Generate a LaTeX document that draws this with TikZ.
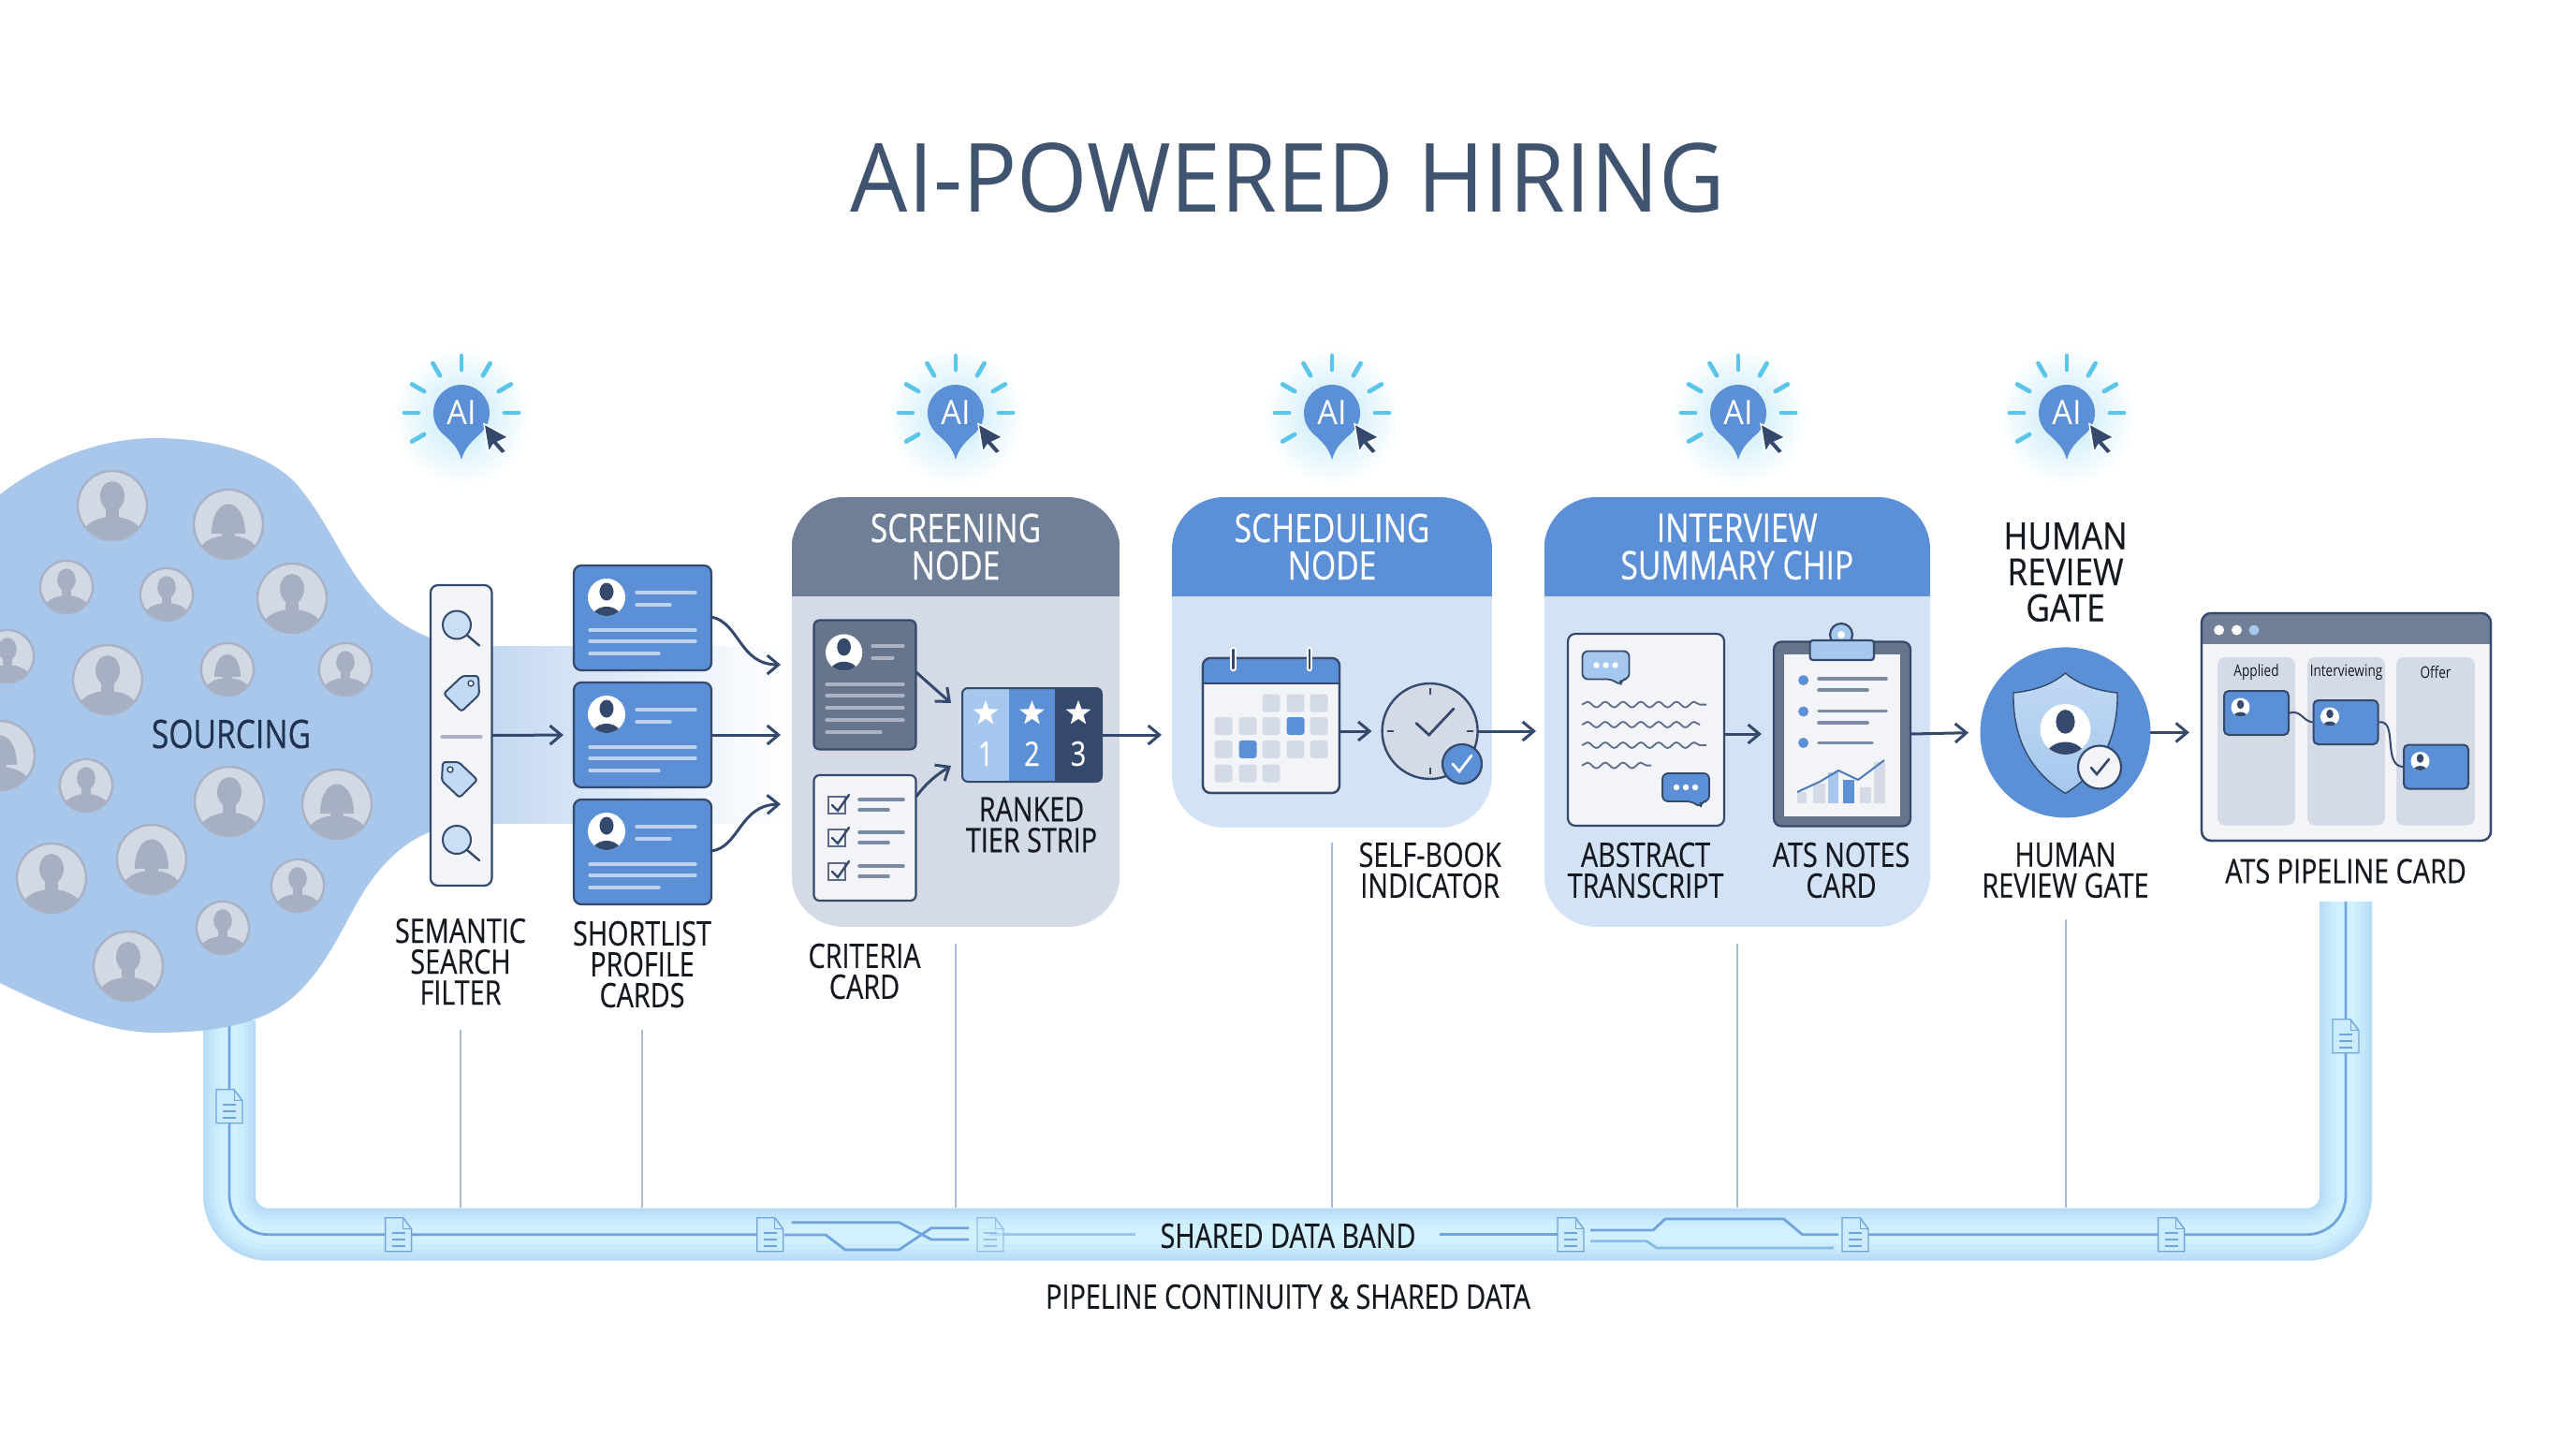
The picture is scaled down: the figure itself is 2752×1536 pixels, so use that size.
\documentclass[tikz,border=0pt]{standalone}
\usepackage{fontspec}
\usetikzlibrary{arrows.meta,shapes.geometric,decorations.pathmorphing}
\newfontfamily\lblfont[FakeStretch=0.8,FakeBold=0.4]{Open Sans}
\newfontfamily\gatefont[FakeStretch=0.88,FakeBold=0.4]{Open Sans}
\newfontfamily\minifont[FakeStretch=0.8]{Open Sans}
\newfontfamily\ttlfont[FakeStretch=0.95]{Open Sans}
\definecolor{navy}{HTML}{34496B}
\definecolor{ink}{HTML}{14181F}
\definecolor{deepnavy}{HTML}{1F3350}
\definecolor{titleblue}{HTML}{40536F}
\definecolor{midblue}{HTML}{5B8FD6}
\definecolor{lightblue}{HTML}{A6C8EE}
\definecolor{slate}{HTML}{6F7F98}
\definecolor{panelgray}{HTML}{D5DBE6}
\definecolor{panelblue}{HTML}{D3E2F5}
\definecolor{paper}{HTML}{F2F4F8}
\definecolor{rayblue}{HTML}{5CC5EA}
\definecolor{blobblue}{HTML}{A9C6EB}
\definecolor{crowdbg}{HTML}{D3D9E4}
\definecolor{crowdrim}{HTML}{A8B2C4}
\definecolor{crowdfg}{HTML}{A7AFC2}
\definecolor{barpale}{HTML}{AAB4C6}
\definecolor{bardark}{HTML}{7B8AA3}
\definecolor{dropline}{HTML}{AABCD4}
\definecolor{dataline}{HTML}{6FA5DC}
\definecolor{bandA}{HTML}{B5DBF6}
\definecolor{bandB}{HTML}{BCE0F8}
\definecolor{bandC}{HTML}{C4E6FA}
\definecolor{bandD}{HTML}{CBECFC}
\definecolor{bandE}{HTML}{D2F1FE}
\tikzset{
flow/.style={draw=navy,line width=1.5pt,line cap=round,-{Straight Barb[length=6pt,width=10pt]}},
drop/.style={draw=dropline,line width=1pt},
pxbox/.style 2 args={rectangle,inner sep=0pt,minimum width=#1*0.5pt,minimum height=#2*0.5pt},
lbl/.style={font=\lblfont\fontsize{18}{16.5}\selectfont,align=center,text=ink,inner sep=0pt},
heading/.style={font=\lblfont\fontsize{21}{20}\selectfont,align=center,text=white,inner sep=0pt},
pale/.style={draw=barpale,line width=1.6pt,line cap=round},
dark/.style={draw=bardark,line width=1.8pt,line cap=round},
dline/.style={draw=dataline,line width=1.4pt},
pics/face/.style 2 args={code={
\fill[#1] (0,0) circle[radius=20];
\begin{scope}
\clip (0,0) circle[radius=20];
\fill[#2] (0,-6) ellipse[x radius=7.5,y radius=9.5];
\fill[#2] (0,23) ellipse[x radius=16,y radius=13];
\end{scope}
}},
pics/crowdman/.style={code={
\fill[crowdbg] (0,0) circle[radius=37];
\begin{scope}
\clip (0,0) circle[radius=37];
\fill[crowdfg] (0,-10) ellipse[x radius=13,y radius=16];
\fill[crowdfg] (-7,0) rectangle (7,14);
\fill[crowdfg] (0,30) ellipse[x radius=31,y radius=18];
\end{scope}
\draw[crowdrim,line width=1.2pt] (0,0) circle[radius=37];
}},
pics/crowdwoman/.style={code={
\fill[crowdbg] (0,0) circle[radius=37];
\begin{scope}
\clip (0,0) circle[radius=37];
\fill[crowdfg] (-18,10) .. controls (-18,-32) and (18,-32) .. (18,10) -- cycle;
\fill[crowdfg] (-7,0) rectangle (7,14);
\fill[crowdfg] (0,30) ellipse[x radius=31,y radius=18];
\end{scope}
\draw[crowdrim,line width=1.2pt] (0,0) circle[radius=37];
}},
pics/aimark/.style={code={
\shade[inner color=rayblue!38,outer color=white] (0,4) circle[radius=74];
\foreach \a in {0,-30,-60,-90,-120,-150,180,150}
\draw[rayblue,line width=2.4pt,line cap=round] (\a:46) -- (\a:61);
\fill[midblue] (0,0) circle[radius=30];
\fill[midblue] (-22,20) .. controls (-10,32) and (-4,36) .. (0,50) .. controls (4,36) and (10,32) .. (22,20) -- cycle;
\node (txt) [font=\ttlfont\fontsize{18}{18}\selectfont,text=white] at (0,0) {AI};
\fill[navy,draw=white,line width=.7pt] (24,11.7) -- (50,26) -- (39,31) -- (48,41) -- (43,44) -- (34,34) -- (29,42) -- cycle;
}},
pics/docicon/.style={code={
\draw[dataline,fill=bandD,line width=.7pt] (-14,-18) -- (5,-18) -- (14,-6) -- (14,18) -- (-14,18) -- cycle;
\draw[dataline,line width=.5pt] (5,-18) -- (5,-6) -- (14,-6);
\foreach \y in {-2,5,12}
\draw[dataline,line width=.8pt] (-7,\y) -- (7,\y);
}},
pics/lens/.style={code={
\draw[navy,fill=lightblue!60,line width=1pt] (0,0) circle[radius=15];
\draw[navy,line width=1.2pt,line cap=round] (11,11) -- (24,22);
}},
pics/tagicon/.style={code={
\draw[navy,fill=lightblue!70,line width=1pt,rounded corners=1.5pt] (-18,1) -- (2,-18) -- (19,-18) -- (20,2) -- (1,20) -- cycle;
\draw[navy,fill=white,line width=.7pt] (11,-10) circle[radius=3];
}},
pics/bubble/.style={code={
\draw[navy,fill=#1,line width=.9pt,rounded corners=3pt] (-25,-15) -- (25,-15) -- (25,15) -- (16,15) -- (16,22) -- (7,15) -- (-25,15) -- cycle;
\foreach \x in {-10,0,10}
\fill[white] (\x,0) circle[radius=3.2];
}}
}
\begin{document}
\begin{tikzpicture}[x=0.5pt,y=-0.5pt]
\useasboundingbox (0,0) rectangle (2752,1536);
\fill[white] (0,0) rectangle (2752,1536);
\node (title) [font=\ttlfont\fontsize{51}{51}\selectfont,text=titleblue,inner sep=0pt] at (1376,190) {AI-POWERED HIRING};
% data band
\coordinate (bandL) at (245,1090);
\coordinate (bandM) at (1376,1318.7);
\coordinate (bandR) at (2506,963);
\foreach \w/\cc in {28/bandA,25/bandB,21/bandC,16/bandD,10/bandE}
\draw[line width=\w pt,draw=\cc,rounded corners=21pt] (bandL) |- (bandM) -| (bandR);
\foreach \nm/\x/\y in {docA/245/1181.7,docB/425.6/1318.7,docC/822.7/1318.7,docD/1058/1318.7,docE/1678/1318.7,docF/1982/1318.7,docG/2319.6/1318.7,docH/2506/1106.7}
\coordinate (\nm) at (\x,\y);
\draw[dline,rounded corners=21pt] (bandL) |- (docC);
\draw[dline,rounded corners=21pt] (docF) -| (bandR);
\draw[dline] (845.6,1305.7) -- (960.4,1305.7) -- (995,1324) -- (1035,1324);
\draw[dline] (838,1319) -- (882,1319) -- (903,1335) -- (960.4,1335) -- (995,1311.7) -- (1035,1311.7);
\draw[dline,opacity=.55] (docD) -- (1213,1318.7);
\draw[dline] (1538,1318.7) -- (docE);
\draw[dline] (1699,1314) -- (1766,1314) -- (1779,1302) -- (1905.6,1302) -- (1925.5,1318.7) -- (1964,1318.7);
\draw[dline,opacity=.7] (1699,1325.7) -- (1759,1325.7) -- (1770,1333) -- (1959,1333);
\foreach \nm in {docA,docB,docC,docE,docF,docG,docH}
\pic at (\nm) {docicon};
\pic[opacity=.6] at (docD) {docicon};
\node (bandtxt) [lbl] at (1376,1320) {SHARED DATA BAND};
\node (bandcap) [lbl] at (1376,1385) {PIPELINE CONTINUITY \& SHARED DATA};
% drop lines
\foreach \nm/\x/\y in {dropA/492/1100,dropB/686/1100,dropC/1020.5/1008,dropD/1423/900,dropE/1856/1008,dropF/2206.5/982} {
\coordinate (\nm t) at (\x,\y);
\coordinate (\nm b) at (\x,1290);
\draw[drop] (\nm t) -- (\nm b);
}
% sourcing
\fill[blobblue] (-20,545) .. controls (40,490) and (110,468) .. (165,468) .. controls (230,468) and (285,485) .. (315,515) .. controls (350,555) and (365,600) .. (395,635) .. controls (415,660) and (440,675) .. (470,685) -- (470,885) .. controls (435,895) and (410,920) .. (390,950) .. controls (365,990) and (345,1045) .. (300,1075) .. controls (265,1098) and (215,1103) .. (165,1103) .. controls (110,1103) and (50,1075) .. (-20,1040) -- cycle;
\foreach \x/\y/\s in {120/540/1,71/627/.76,178/635/.76,312/639/1,8/701/.76,115/726/1,92/839/.76,245/856/1,55/938/1,318/946/.76,238/991/.76,137/1032/1,369/715/.76}
\pic[scale=\s] at (\x,\y) {crowdman};
\foreach \x/\y/\s in {244/560/1,243/715/.76,0/807/1,360/859/1,162/918/1}
\pic[scale=\s] at (\x,\y) {crowdwoman};
\node (sourcing) [lbl,font=\lblfont\fontsize{21}{21}\selectfont,text=deepnavy] at (247,784) {SOURCING};
\shade[left color=blobblue!80,right color=white] (470,690) rectangle (840,879);
% filter
\node (filter) [pxbox={65.5}{321},fill=paper,draw=navy,line width=1.1pt,rounded corners=4pt] at (492.7,785.5) {};
\pic at (488,667.5) {lens};
\pic at (488,897) {lens};
\pic at (492,740) {tagicon};
\pic[xscale=-1] at (492,832) {tagicon};
\draw[pale] (472,787) -- (514,787);
\node (semlbl) [lbl] at (492,1027) {SEMANTIC\\SEARCH\\FILTER};
% shortlist cards
\foreach \nm/\y in {cardA/604,cardB/729,cardC/854} {
\node (\nm) [pxbox={147}{112},fill=midblue,draw=navy,line width=1.1pt,rounded corners=4pt] at (686.5,\y+56) {};
\pic at (648,\y+34) {face={white}{navy}};
\draw[pale,draw=white!60!midblue] (680,\y+29) -- (743,\y+29);
\draw[pale,draw=white!60!midblue] (680,\y+42) -- (716,\y+42);
\draw[pale,draw=white!60!midblue] (630,\y+69) -- (743,\y+69);
\draw[pale,draw=white!60!midblue] (630,\y+81) -- (743,\y+81);
\draw[pale,draw=white!60!midblue] (630,\y+94) -- (704,\y+94);
}
\node (shortlbl) [lbl] at (686,1030) {SHORTLIST\\PROFILE\\CARDS};
\coordinate (scrinA) at (834,710);
\coordinate (scrinB) at (834,785);
\coordinate (scrinC) at (834,859);
\coordinate (cardAout) at (760,659);
\coordinate (cardCout) at (760,909);
\draw[flow,shorten >=5pt] (filter.east) -- (cardB.west);
\draw[flow] (cardAout) .. controls (790,665) and (790,710) .. (scrinA);
\draw[flow] (cardB.east) -- (scrinB);
\draw[flow] (cardCout) .. controls (790,905) and (790,860) .. (scrinC);
% panels
\foreach \nm/\xa/\xb/\yb/\hc/\bc/\tx in {screen/845.5/1196.5/990/slate/panelgray/{SCREENING\\NODE},sched/1252/1594/884/midblue/panelblue/{SCHEDULING\\NODE},inter/1649.5/2062/990/midblue/panelblue/{INTERVIEW\\SUMMARY CHIP}} {
\begin{scope}
\clip[rounded corners=28pt] (\xa,531) rectangle (\xb,\yb);
\fill[fill=\bc] (\xa,531) rectangle (\xb,\yb);
\fill[fill=\hc] (\xa,531) rectangle (\xb,637);
\end{scope}
\node (\nm) [heading] at ({(\xa+\xb)/2},584) {\tx};
}
% screening
\node (resume) [pxbox={109}{138},fill=slate!92!black,draw=navy,line width=1.1pt,rounded corners=3pt] at (924,731.5) {};
\pic[scale=.98] at (901.6,697) {face={white}{navy}};
\draw[pale] (932,690) -- (965,690);
\draw[pale] (932,703) -- (954,703);
\foreach \y in {731,743,756,769}
\draw[pale] (883,\y) -- (965,\y);
\draw[pale] (883,782) -- (941,782);
\node (criteria) [pxbox={109}{134},fill=paper,draw=navy,line width=1.1pt,rounded corners=3pt] at (924,895) {};
\foreach \y in {860,895,931} {
\draw[navy!80,line width=1pt] (885,\y-9) rectangle (903,\y+9);
\draw[navy,line width=1.2pt,line cap=round] (889,\y) -- (895,\y+6) -- (907,\y-11);
\draw[dark] (918,\y-6) -- (965,\y-6);
\draw[dark] (918,\y+5) -- (949,\y+5);
}
\begin{scope}
\clip[rounded corners=3pt] (1028,735) rectangle (1177,835);
\fill[lightblue] (1028,735) rectangle (1078,835);
\fill[midblue] (1078,735) rectangle (1127,835);
\fill[navy] (1127,735) rectangle (1177,835);
\end{scope}
\node (strip) [pxbox={149}{100},draw=navy,line width=1pt,rounded corners=3pt] at (1102.5,785) {};
\foreach \nm/\x/\num in {tierA/1053/1,tierB/1102.5/2,tierC/1152/3} {
\node (\nm s) [star,star points=5,star point ratio=2.4,fill=white,inner sep=0pt,minimum size=14pt] at (\x,762) {};
\node (\nm n) [lbl,text=white] at (\x,805) {\num};
}
\coordinate (resumeout) at (978.7,718);
\coordinate (criteriaout) at (978.7,851);
\coordinate (stripinA) at (1016,751);
\coordinate (stripinB) at (1016,818);
\coordinate (schedin) at (1241,785);
\draw[flow] (resumeout) -- (stripinA);
\draw[flow] (criteriaout) .. controls (990,836) and (1000,828) .. (stripinB);
\draw[flow] (strip.east) -- (schedin);
\node (ranked) [lbl] at (1102,881) {RANKED\\TIER STRIP};
\node (critlbl) [lbl] at (923.5,1037.5) {CRITERIA\\CARD};
% scheduling
\node (calendar) [pxbox={146}{144},fill=paper,draw=navy,line width=1.1pt,rounded corners=4pt] at (1358,775) {};
\begin{scope}
\clip[rounded corners=4pt] (1285,703) rectangle (1431,847);
\fill[midblue] (1285,703) rectangle (1431,730);
\end{scope}
\draw[navy,line width=1.1pt] (1285,730) -- (1431,730);
\draw[navy,line width=1.1pt,rounded corners=4pt] (1285,703) rectangle (1431,847);
\foreach \x in {1317.5,1399} {
\draw[white,line width=3.2pt,line cap=round] (\x,694) -- (\x,714);
\draw[navy,line width=1.2pt,line cap=round] (\x,694) -- (\x,714);
}
\foreach \x/\y/\cc in {1358/751/panelgray,1384/751/panelgray,1409/751/panelgray,1307/775.5/panelgray,1333/775.5/panelgray,1358/775.5/panelgray,1384/775.5/midblue,1409/775.5/panelgray,1307/800.4/panelgray,1333/800.4/midblue,1358/800.4/panelgray,1384/800.4/panelgray,1409/800.4/panelgray,1307/826/panelgray,1333/826/panelgray,1358/826/panelgray}
\fill[fill=\cc,rounded corners=1.5pt] (\x-9.5,\y-9.5) rectangle (\x+9.5,\y+9.5);
\node (clock) [circle,inner sep=0pt,minimum size=51pt,fill=panelgray,draw=navy,line width=1.2pt] at (1527.6,781) {};
\foreach \a in {0,90,180,270}
\draw[navy,line width=1pt] ([shift={(\a:39)}]clock.center) -- ([shift={(\a:46)}]clock.center);
\draw[navy,line width=1.4pt,line cap=round] (1513,772.5) -- (1526.6,785) -- (1553,757);
\node (selfbadge) [circle,inner sep=0pt,minimum size=21pt,fill=midblue,draw=navy,line width=1.1pt] at (1562,816) {};
\draw[white,line width=1.4pt,line cap=round] (1552,816) -- (1559,824) -- (1572,807);
\coordinate (interin) at (1641,781);
\draw[flow,shorten >=5pt] (calendar.east |- clock.west) -- (clock.west);
\draw[flow] (clock.east) -- (interin);
\node (selflbl) [lbl] at (1527.6,929.5) {SELF-BOOK\\INDICATOR};
% interview
\node (transcript) [pxbox={167}{205},fill=paper,draw=navy,line width=1.1pt,rounded corners=4pt] at (1758.5,779.5) {};
\pic[scale=1] at (1715.5,710.5) {bubble={lightblue}};
\pic[scale=1] at (1801,841) {bubble={midblue}};
\foreach \y/\xe in {752.6/1823,774/1816,796/1823,817.6/1764}
\draw[navy!80,line width=.9pt,decorate,decoration={snake,segment length=9.5pt,amplitude=1.5pt}] (1690,\y) -- (\xe,\y);
\node (notes) [pxbox={146}{197},fill=slate!92!black,draw=navy,line width=1.1pt,rounded corners=4pt] at (1968,784) {};
\fill[paper] (1906,699) rectangle (2030,872);
\draw[navy,line width=1.1pt,fill=lightblue] (1967,678) circle[radius=12];
\fill[white] (1967,678) circle[radius=4];
\draw[navy,line width=1.1pt,fill=lightblue,rounded corners=1.5pt] (1933.6,684) rectangle (2002,705);
\foreach \y in {726.6,760,793.5}
\fill[midblue] (1926.6,\y) circle[radius=5.5];
\draw[dark] (1943,725) -- (2015,725);
\draw[dark] (1943,737) -- (1995,737);
\draw[dark] (1943,759.5) -- (2015,759.5);
\draw[dark] (1943,772) -- (1995,772);
\draw[dark] (1943,793.5) -- (2000,793.5);
\foreach \xa/\xb/\yt/\cc in {1920/1930/846/panelgray,1937/1950/837/panelgray,1953/1964/825/lightblue,1969/1981/833/midblue,1987/1999/841/panelgray,2002/2014/814/panelgray}
\fill[fill=\cc] (\xa,\yt) rectangle (\xb,858);
\draw[midblue!85!black,line width=1pt,line join=round] (1920,846) -- (1944,835) -- (1964,823) -- (1985,833) -- (2013,812);
\draw[flow,shorten >=6pt] (transcript.east |- notes.east) -- (notes.west);
\node (abslbl) [lbl] at (1758,929.5) {ABSTRACT\\TRANSCRIPT};
\node (noteslbl) [lbl] at (1967,929.5) {ATS NOTES\\CARD};
% review gate
\node (gate) [circle,inner sep=0pt,minimum size=91pt,fill=midblue] at (2206.5,782.4) {};
\shade[top color=lightblue!70!white,bottom color=lightblue,draw=navy,line width=.7pt] (2206.5,719) .. controls (2190,733) and (2170,738) .. (2151,740) .. controls (2150,790) and (2170,825) .. (2206.5,847.5) .. controls (2243,825) and (2263,790) .. (2262,740) .. controls (2243,738) and (2223,733) .. (2206.5,719) -- cycle;
\pic[scale=1.35] at (2206.5,779) {face={white}{navy}};
\node (gatebadge) [circle,inner sep=0pt,minimum size=23pt,fill=paper,draw=navy,line width=1.1pt] at (2243,819.5) {};
\draw[navy,line width=1.3pt,line cap=round] (2234,820) -- (2240,827) -- (2253,811);
\node (gatetop) [lbl,font=\gatefont\fontsize{20}{19.2}\selectfont] at (2206.5,611) {HUMAN\\REVIEW\\GATE};
\node (gatebot) [lbl] at (2206.5,929.5) {HUMAN\\REVIEW GATE};
\draw[flow,shorten >=6pt] (notes.east) -- (gate.west);
% ats card
\node (ats) [pxbox={309}{243},fill=paper,draw=navy,line width=1.1pt,rounded corners=5pt] at (2506.5,776.5) {};
\begin{scope}
\clip[rounded corners=5pt] (2352,655) rectangle (2661,898);
\fill[slate] (2352,655) rectangle (2661,687.5);
\end{scope}
\draw[navy,line width=1.1pt,rounded corners=5pt] (2352,655) rectangle (2661,898);
\foreach \x/\cc in {2370.6/white,2389.5/white,2408/lightblue}
\fill[fill=\cc] (\x,673) circle[radius=5.5];
\foreach \nm/\xa/\xb/\tx in {colA/2369/2452/Applied,colB/2465/2548/Interviewing,colC/2560/2644/Offer} {
\fill[panelgray,rounded corners=4pt] (\xa,702) rectangle (\xb,881.5);
\node (\nm) [font=\minifont\fontsize{8.5}{8.5}\selectfont,text=ink,inner sep=0pt] at ({(\xa+\xb)/2},718.5) {\tx};
}
\foreach \nm/\x/\y in {miniA/2410.5/761.5,miniB/2506/771.5,miniC/2602.5/819} {
\node (\nm) [pxbox={69}{47},fill=midblue,draw=navy,line width=1pt,rounded corners=2.5pt] at (\x,\y) {};
\pic[scale=.5] at (\x-17,\y-6) {face={white}{navy}};
}
\draw[navy,line width=1pt] (miniA.east) .. controls (2458,758) and (2460,770) .. (miniB.west);
\draw[navy,line width=1pt] (miniB.east) .. controls (2562,768) and (2545,818) .. (miniC.west);
\draw[flow,shorten >=6pt] (gate.east) -- (ats.west |- gate.east);
\node (atslbl) [lbl] at (2506,930.5) {ATS PIPELINE CARD};
% ai marks
\foreach \nm/\x in {aiA/493,aiB/1021,aiC/1423,aiD/1857,aiE/2208}
\pic (\nm) at (\x,441) {aimark};
\end{tikzpicture}
\end{document}
